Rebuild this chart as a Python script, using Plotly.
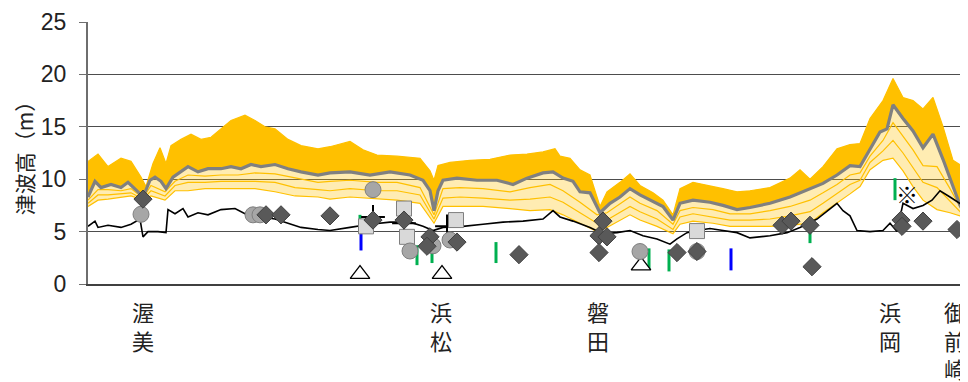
import plotly.graph_objects as go

# position along the coast (plot units, left edge = 0) and tsunami height (m)
upper_x = [0, 10, 20, 33, 43, 53, 58, 65, 72, 78, 83, 93, 103, 113, 123, 133, 143, 157, 167, 177, 187, 200, 213, 230,
           242, 262, 275, 289, 309, 332, 342, 346, 350, 362, 382, 402, 422, 439, 455, 467, 472, 482, 492, 502, 512,
           519, 532, 542, 552, 565, 575, 585, 592, 605, 622, 635, 649, 662, 682, 702, 712, 722, 735, 749, 762, 772,
           782, 795, 805, 815, 825, 835, 845, 855, 865, 875, 880]
upper_h = [11.7, 12.4, 11.2, 12.0, 11.7, 10.2, 9.3, 11.5, 13.0, 11.5, 13.2, 13.8, 14.3, 13.8, 14.0, 14.8, 15.6, 16.1,
           15.6, 15.0, 14.8, 13.8, 13.2, 12.9, 13.1, 13.6, 12.8, 12.3, 12.2, 12.0, 10.8, 9.9, 11.3, 11.6, 11.8, 11.9,
           12.3, 12.4, 12.6, 12.9, 12.2, 12.0, 10.9, 10.4, 7.4, 8.8, 9.7, 10.5, 9.4, 8.7, 8.0, 6.6, 9.1, 9.7, 9.4, 9.1,
           8.8, 8.9, 9.2, 10.1, 10.9, 10.0, 11.2, 12.9, 13.3, 13.4, 15.8, 17.5, 19.6, 17.8, 17.5, 16.7, 17.8, 15.0,
           11.8, 11.2, 9.3]

lower_x = [0, 10, 20, 33, 43, 55, 63, 77, 87, 100, 117, 133, 150, 167, 187, 207, 230, 242, 262, 289, 309, 332, 346,
           355, 372, 395, 422, 442, 462, 475, 492, 509, 519, 542, 552, 569, 585, 592, 605, 625, 642, 662, 682, 702,
           722, 735, 749, 762, 772, 782, 795, 805, 815, 825, 835, 849, 862, 875, 880]
lower_h = [7.4, 8.0, 8.1, 8.3, 8.4, 8.0, 8.4, 8.0, 8.9, 8.9, 9.1, 9.1, 9.1, 9.1, 8.8, 8.4, 8.3, 8.1, 8.3, 8.1, 8.0, 7.7,
           5.8, 7.4, 7.4, 7.4, 7.2, 7.0, 7.1, 6.6, 5.8, 5.0, 5.4, 6.6, 6.1, 5.5, 4.8, 5.7, 6.0, 5.8, 5.5, 5.5, 5.5, 5.6,
           5.8, 6.8, 7.7, 8.6, 9.3, 10.9, 11.8, 12.0, 10.8, 9.3, 8.0, 7.1, 6.8, 6.4, 5.5]
# two of the thinner, lower ensemble runs (same stations as lower_x)
run_a_h = [8.0, 9.0, 9.0, 8.9, 9.1, 8.2, 9.4, 8.8, 9.8, 10.4, 10.3, 10.4, 10.4, 10.6, 10.5, 10.1, 9.7, 9.8, 9.9, 9.7,
           9.7, 9.2, 6.6, 9.1, 9.2, 9.1, 8.8, 9.2, 9.5, 8.9, 7.8, 6.6, 6.8, 8.3, 7.7, 7.0, 5.7, 7.0, 7.3, 7.1, 6.7, 6.7,
           7.0, 7.4, 8.0, 8.7, 9.5, 10.4, 10.6, 12.2, 13.7, 15.4, 14.1, 12.8, 11.3, 11.2, 9.1, 6.8, 6.0]
run_b_h = [7.7, 8.5, 8.5, 8.6, 8.7, 8.1, 8.9, 8.4, 9.4, 9.7, 9.7, 9.8, 9.8, 9.8, 9.7, 9.2, 9.0, 8.9, 9.1, 8.9, 8.9,
           8.5, 6.2, 8.2, 8.3, 8.2, 8.0, 8.1, 8.3, 7.8, 6.8, 5.8, 6.1, 7.4, 6.9, 6.2, 5.2, 6.4, 6.7, 6.4, 6.1, 6.1, 6.2,
           6.5, 6.9, 7.7, 8.6, 9.5, 9.9, 11.6, 12.7, 13.7, 12.5, 11.1, 9.7, 9.2, 7.9, 6.6, 5.7]

mean_x = [0, 7, 13, 23, 33, 40, 50, 55, 62, 67, 73, 78, 85, 93, 100, 110, 120, 133, 143, 153, 163, 173, 187, 200, 213,
          230, 242, 262, 282, 302, 322, 335, 342, 346, 350, 355, 369, 389, 409, 425, 439, 455, 465, 475, 485, 492, 502,
          512, 522, 532, 542, 552, 562, 575, 585, 592, 605, 622, 635, 649, 662, 682, 702, 722, 735, 749, 762, 772, 782,
          792, 799, 805, 815, 825, 835, 845, 855, 865, 872, 880]
mean_h = [8.3, 9.8, 9.2, 9.5, 9.2, 9.7, 8.8, 8.3, 9.9, 10.2, 9.8, 9.1, 10.2, 10.7, 11.2, 10.7, 11.0, 11.0, 11.2, 11.0,
          11.4, 11.2, 11.4, 11.0, 10.7, 10.4, 10.6, 10.7, 10.4, 10.7, 10.4, 9.9, 8.9, 7.0, 8.9, 9.9, 10.1, 9.9, 9.9, 9.5,
          10.1, 10.6, 10.7, 10.1, 9.8, 8.8, 8.7, 6.8, 7.7, 8.3, 9.1, 8.5, 8.0, 7.4, 6.1, 7.7, 8.0, 7.8, 7.5, 7.1, 7.3,
          7.7, 8.3, 9.1, 9.6, 10.4, 11.3, 11.2, 12.9, 14.5, 14.8, 17.1, 15.8, 14.6, 13.0, 14.3, 11.9, 9.4, 7.5, 6.2]

past_x = [0, 7, 10, 20, 33, 43, 52, 55, 60, 70, 78, 80, 87, 95, 100, 110, 120, 133, 147, 157, 173, 187, 200, 213, 230,
          242, 262, 282, 302, 322, 335, 345, 355, 375, 395, 415, 435, 455, 465, 472, 485, 502, 515, 529, 542, 555, 569,
          582, 589, 599, 609, 622, 635, 649, 662, 682, 699, 712, 729, 742, 749, 755, 762, 769, 782, 795, 802, 809, 815,
          825, 835, 844, 852, 862, 875, 880]
past_h = [5.5, 6.0, 5.4, 5.6, 5.4, 5.7, 6.2, 4.5, 5.0, 5.0, 4.9, 7.1, 6.7, 7.2, 6.4, 6.8, 6.6, 7.1, 7.2, 6.7, 6.4, 6.2,
          5.8, 5.4, 5.2, 5.1, 5.4, 5.7, 5.9, 5.9, 5.5, 5.1, 5.4, 5.5, 5.7, 5.9, 6.0, 6.2, 7.0, 6.4, 6.0, 5.4, 4.8, 4.9,
          5.1, 4.6, 4.3, 3.8, 4.3, 4.9, 5.1, 5.3, 5.1, 4.9, 4.4, 4.6, 4.9, 5.4, 6.2, 7.2, 7.7, 7.0, 6.5, 5.1, 5.0, 5.1,
          5.8, 5.0, 7.7, 7.2, 7.5, 8.0, 8.9, 8.3, 7.5, 5.7]

# observed marks
diamond_x = [55, 178, 193, 242, 285, 316, 342, 339, 369, 431, 515, 511, 519, 511, 589, 609, 694, 703, 722, 724, 813, 814,
             835, 869]
diamond_h = [8.1, 6.6, 6.6, 6.5, 6.1, 6.1, 4.5, 3.6, 4.0, 2.8, 6.0, 4.6, 4.5, 3.0, 3.0, 3.1, 5.6, 6.0, 5.6, 1.65, 6.1,
             5.5, 6.0, 5.2]
circle_x = [53, 165, 172, 285, 322, 345, 362, 552, 609]
circle_h = [6.65, 6.6, 6.6, 9.0, 3.15, 3.65, 4.2, 3.1, 3.1]
square_x = [278, 316, 319, 368, 609]
square_h = [5.5, 7.2, 4.5, 6.1, 5.05]
triangle_x = [272, 354, 553]
triangle_h = [0.95, 0.95, 1.75]
plus_x = [285, 316, 359]
plus_h = [6.4, 5.8, 5.5]
green_x = [272, 329, 344, 408, 561, 581, 722, 807]
green_lo = [5.0, 1.8, 2.0, 2.0, 1.4, 1.2, 3.9, 8.0]
green_hi = [6.6, 3.7, 3.1, 4.0, 3.4, 3.3, 5.0, 10.1]
blue_x = [273, 643]
blue_lo = [3.2, 1.3]
blue_hi = [5.0, 3.4]
note_x, note_h = 819, 8.7

places = ["渥美", "浜松", "磐田", "浜岡", "御前崎"]
place_x = [55, 353, 510, 802, 867]

YELLOW = "#FFC000"
JP = "Noto Sans CJK JP"


def bars(xs, lo, hi):
    x, y = [], []
    for xi, a, b in zip(xs, lo, hi):
        x += [xi, xi, None]
        y += [a, b, None]
    return x, y


fig = go.Figure()
# ensemble spread: pale below the mean, dense above it
fig.add_trace(go.Scatter(x=upper_x + lower_x[::-1], y=upper_h + lower_h[::-1], fill="toself", mode="lines",
                         line=dict(width=0), fillcolor="rgba(255,192,0,0.3)", hoverinfo="skip"))
fig.add_trace(go.Scatter(x=upper_x + mean_x[::-1], y=upper_h + mean_h[::-1], fill="toself", mode="lines",
                         line=dict(width=0), fillcolor=YELLOW, hoverinfo="skip"))
for run in (run_a_h, run_b_h, lower_h):
    fig.add_trace(go.Scatter(x=lower_x, y=run, mode="lines", line=dict(color=YELLOW, width=1.2)))
fig.add_trace(go.Scatter(x=upper_x, y=upper_h, mode="lines", line=dict(color=YELLOW, width=1.2)))
fig.add_trace(go.Scatter(x=mean_x, y=mean_h, mode="lines", line=dict(color="#808080", width=3.2)))
fig.add_trace(go.Scatter(x=past_x, y=past_h, mode="lines", line=dict(color="black", width=1.6)))

gx, gy = bars(green_x, green_lo, green_hi)
fig.add_trace(go.Scatter(x=gx, y=gy, mode="lines", line=dict(color="#00B050", width=3)))
bx, by = bars(blue_x, blue_lo, blue_hi)
fig.add_trace(go.Scatter(x=bx, y=by, mode="lines", line=dict(color="#0000FF", width=3)))

fig.add_trace(go.Scatter(x=triangle_x, y=triangle_h, mode="markers",
                         marker=dict(symbol="triangle-up", size=17, color="white", line=dict(color="black", width=1.3))))
fig.add_trace(go.Scatter(x=plus_x, y=plus_h, mode="markers",
                         marker=dict(symbol="cross-thin", size=17, line=dict(color="black", width=2))))
fig.add_trace(go.Scatter(x=square_x, y=square_h, mode="markers",
                         marker=dict(symbol="square", size=15, color="#D9D9D9", line=dict(color="#7F7F7F", width=1))))
fig.add_trace(go.Scatter(x=circle_x, y=circle_h, mode="markers",
                         marker=dict(symbol="circle", size=16, color="#A6A6A6", line=dict(color="#7F7F7F", width=1))))
fig.add_trace(go.Scatter(x=diamond_x, y=diamond_h, mode="markers",
                         marker=dict(symbol="diamond", size=14, color="#595959", line=dict(color="#404040", width=1))))

fig.add_annotation(x=note_x, y=note_h, text="※", showarrow=False, font=dict(size=22, color="black", family=JP))

for name, px in zip(places, place_x):
    fig.add_annotation(x=px, y=-0.035, xref="x", yref="paper", yanchor="top", showarrow=False,
                       text="<br>".join(name), font=dict(size=22, color="#222222", family=JP))

# the page body keeps its default 8px margin, so the figure is 8px smaller than the window
fig.update_layout(
    width=960, height=374,
    margin=dict(l=80, r=0, t=14, b=98, autoexpand=False),
    paper_bgcolor="white", plot_bgcolor="white",
    showlegend=False,
    font=dict(family="Liberation Sans Narrow, Liberation Sans, sans-serif", color="#222222"),
    xaxis=dict(range=[0, 880], showticklabels=False, showgrid=False, zeroline=False, ticks="",
               showline=True, linecolor="#404040", linewidth=1.5, automargin=False),
    yaxis=dict(range=[0, 25], tickvals=[0, 5, 10, 15, 20, 25], showgrid=True, gridcolor="#4D4D4D", gridwidth=1.3,
               zeroline=False, showline=True, linecolor="#6E6E6E", linewidth=2, ticks="outside", ticklen=7,
               tickcolor="#6E6E6E", tickfont=dict(size=23), ticklabelstandoff=8, automargin=False,
               title=dict(text="津波高（m）", font=dict(size=21, family=JP), standoff=1)),
)

fig.write_html("out.html")
